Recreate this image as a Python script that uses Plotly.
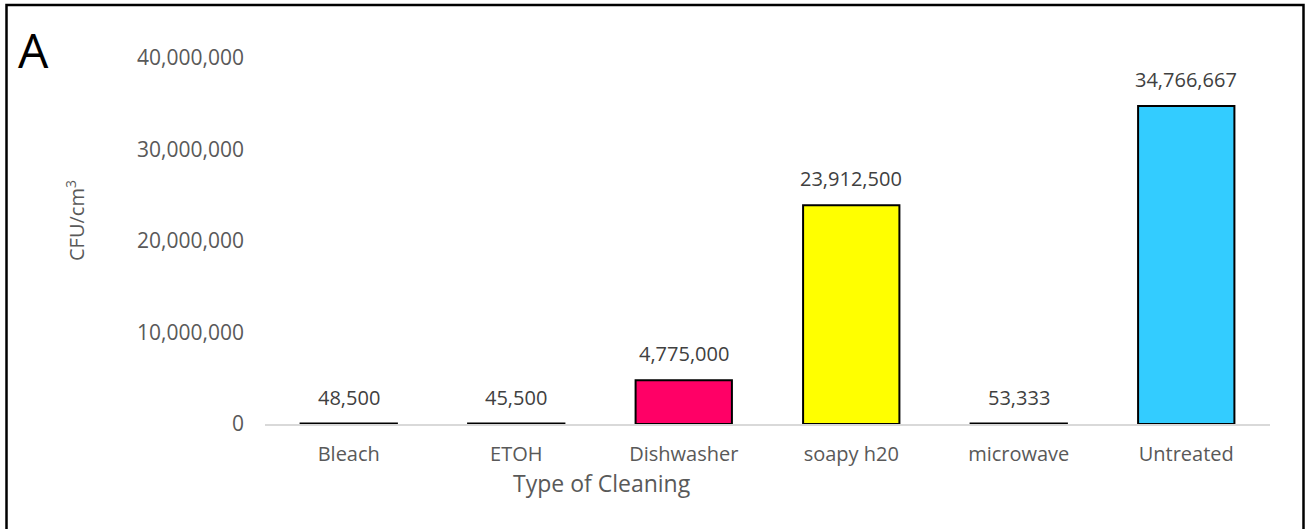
import plotly.graph_objects as go

categories = ["Bleach", "ETOH", "Dishwasher", "soapy h20", "microwave", "Untreated"]
values = [48500, 45500, 4775000, 23912500, 53333, 34766667]
colors = ["#000000", "#000000", "#FF0066", "#FFFF00", "#000000", "#33CCFF"]
y_ticks = [0, 10000000, 20000000, 30000000, 40000000]

W, H = 1307, 529
L, R, T, B = 265, 37, 58, 105
pw, ph = W - L - R, H - T - B

def px_x(x):
    return (x - L) / pw

def px_y(y):
    return (H - B - y) / ph

font = "'Open Sans', sans-serif"
grey = "#595959"

fig = go.Figure(go.Bar(
    x=categories, y=values,
    marker=dict(color=colors, line=dict(color="#000000", width=2)),
    hoverinfo="x+y",
))

annotations = [
    dict(x=c, y=v, xref="x", yref="y", text=f"{v:,}", showarrow=False,
         xanchor="center", yanchor="bottom", yshift=11,
         font=dict(family=font, size=20, color="#404040"))
    for c, v in zip(categories, values)
]
annotations += [
    dict(text="Type of Cleaning", xref="paper", yref="paper", x=px_x(602), y=px_y(483),
         xanchor="center", yanchor="middle", showarrow=False,
         font=dict(size=23, color=grey, family=font)),
    dict(text="CFU/cm<sup>3</sup>", xref="paper", yref="paper", x=px_x(75), y=px_y(221),
         xanchor="center", yanchor="middle", showarrow=False, textangle=-90,
         font=dict(size=20, color=grey, family=font)),
    dict(text="A", xref="paper", yref="paper", x=px_x(33), y=px_y(50),
         xanchor="center", yanchor="middle", showarrow=False,
         font=dict(size=48, color="#000000", family=font)),
]

fig.update_layout(
    width=W, height=H,
    margin=dict(l=L, r=R, t=T, b=B),
    plot_bgcolor="white", paper_bgcolor="white",
    bargap=0.425, showlegend=False,
    font=dict(family=font, color=grey),
    xaxis=dict(showgrid=False, showline=True, linecolor="#D9D9D9", linewidth=1.5,
               ticks="", tickfont=dict(size=20, color=grey, family=font),
               ticklabelstandoff=11, zeroline=False),
    yaxis=dict(range=[0, 40000000], tickvals=y_ticks, tickformat=",",
               showgrid=False, zeroline=False, showline=False, ticks="",
               tickfont=dict(size=21, color=grey, family=font), ticklabelstandoff=20),
    annotations=annotations,
    shapes=[
        dict(type="rect", xref="paper", yref="paper",
             x0=px_x(6.5), x1=px_x(1303.5), y0=px_y(5), y1=px_y(560),
             line=dict(color="#000000", width=2.5), fillcolor="rgba(0,0,0,0)", layer="below"),
    ],
)

fig.write_html("out.html")
